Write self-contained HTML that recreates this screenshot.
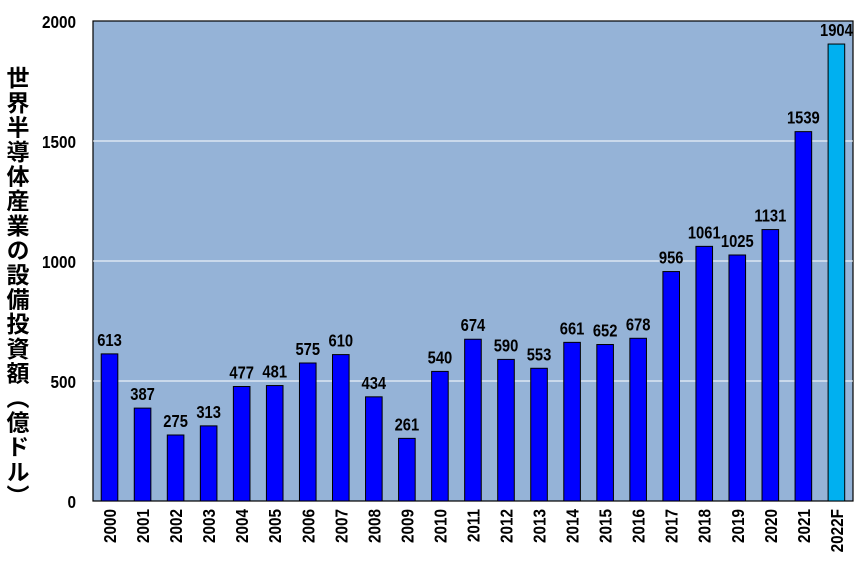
<!DOCTYPE html>
<html><head><meta charset="utf-8"><style>
html,body{margin:0;padding:0;background:#fff;}
.t{position:absolute;left:2px;top:66px;writing-mode:vertical-rl;font-family:"Liberation Sans","Noto Sans CJK JP",sans-serif;font-weight:bold;font-size:23px;line-height:28px;color:#000;letter-spacing:1.6px;}
</style></head><body>
<div style="position:relative;width:866px;height:566px;overflow:hidden;">
<div class="t">世界半導体産業の設備投資額（億ドル）</div>
<svg width="866" height="566" style="position:absolute;left:0;top:0" font-family="Liberation Sans, Arial, sans-serif" font-weight="bold">
<rect x="93" y="21" width="760" height="480" fill="#95b3d7" stroke="#000" stroke-width="1.2"/>
<g stroke="#fff" stroke-width="1">
<line x1="93" x2="853" y1="141" y2="141"/><line x1="93" x2="853" y1="261" y2="261"/><line x1="93" x2="853" y1="381" y2="381"/>
</g>
<g font-size="18" text-anchor="end">
<text transform="translate(76,28) scale(0.85,1)">2000</text><text transform="translate(76,148) scale(0.85,1)">1500</text><text transform="translate(76,268) scale(0.85,1)">1000</text><text transform="translate(76,388) scale(0.85,1)">500</text><text transform="translate(76,508) scale(0.85,1)">0</text>
</g>
<g id="bars"></g>
</svg>
<script>
var v=[613,387,275,313,477,481,575,610,434,261,540,674,590,553,661,652,678,956,1061,1025,1131,1539,1904];
var s='';
for(var i=0;i<v.length;i++){
 var c=93+33.04*(i+0.5), h=v[i]*0.24, y=501-h;
 var col=i==22?'#00b0f0':'#0000ff';
 s+='<rect x="'+(c-8.3)+'" y="'+y+'" width="16.6" height="'+h+'" fill="'+col+'" stroke="#000" stroke-width="1"/>';
 s+='<text transform="translate('+c+','+(y-8)+') scale(0.82,1)" font-size="18" text-anchor="middle">'+v[i]+'</text>';
 var lab=i==22?'2022F':String(2000+i);
 s+='<text transform="translate('+(c+6.5)+',509) rotate(-90) scale(0.85,1)" font-size="18" text-anchor="end">'+lab+'</text>';
}
document.getElementById('bars').innerHTML=s;
</script>
</div>
</body></html>
